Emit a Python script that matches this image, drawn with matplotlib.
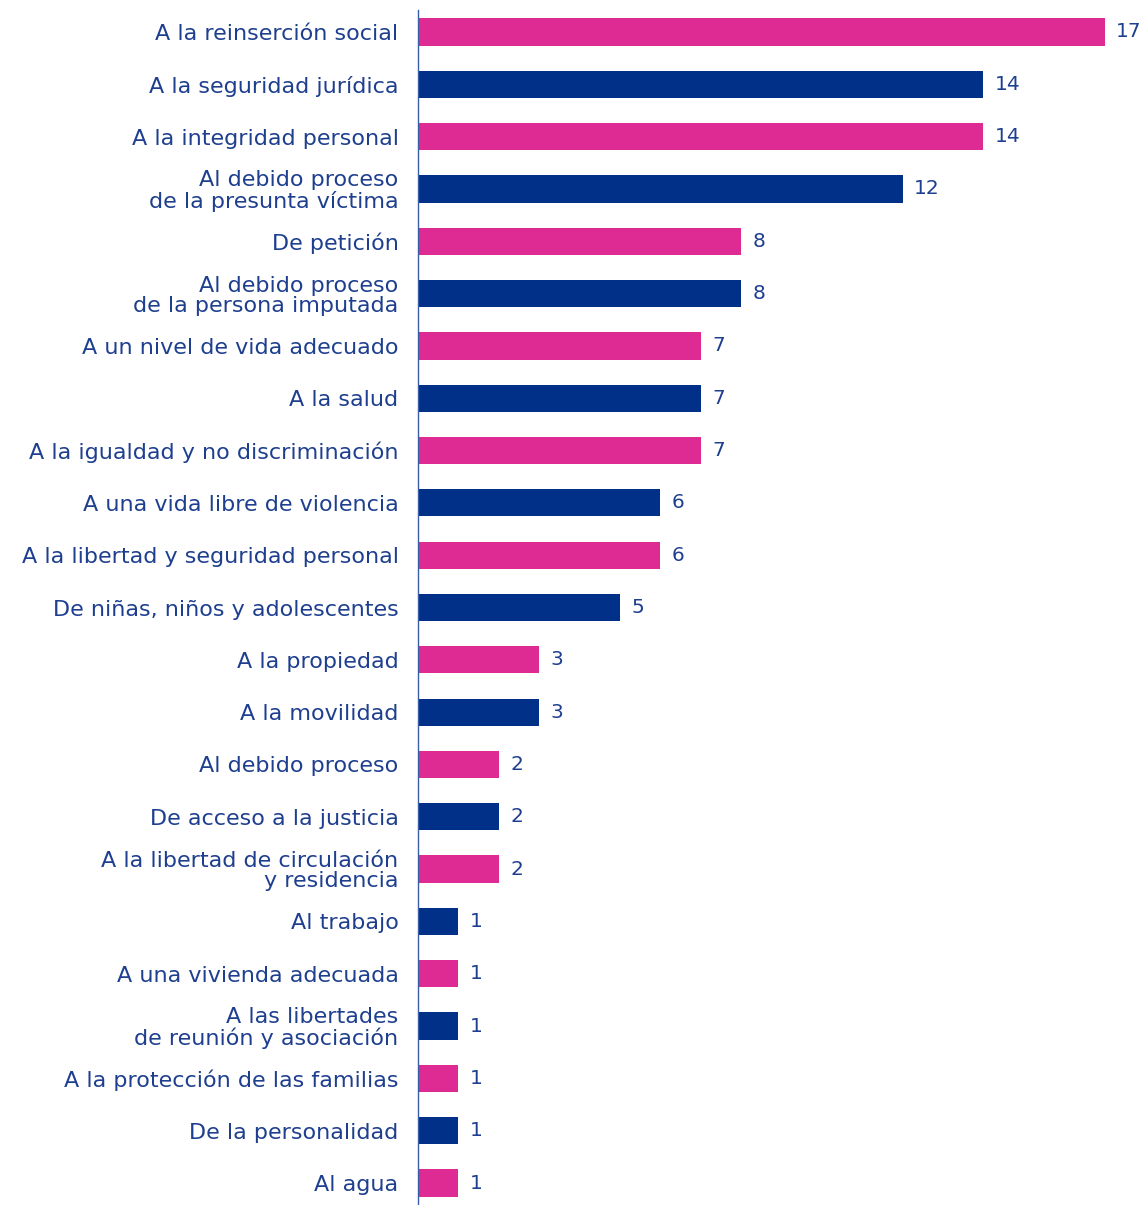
import matplotlib.pyplot as plt

labels = [
    "A la reinserción social",
    "A la seguridad jurídica",
    "A la integridad personal",
    "Al debido proceso\nde la presunta víctima",
    "De petición",
    "Al debido proceso\nde la persona imputada",
    "A un nivel de vida adecuado",
    "A la salud",
    "A la igualdad y no discriminación",
    "A una vida libre de violencia",
    "A la libertad y seguridad personal",
    "De niñas, niños y adolescentes",
    "A la propiedad",
    "A la movilidad",
    "Al debido proceso",
    "De acceso a la justicia",
    "A la libertad de circulación\ny residencia",
    "Al trabajo",
    "A una vivienda adecuada",
    "A las libertades\nde reunión y asociación",
    "A la protección de las familias",
    "De la personalidad",
    "Al agua",
]
values = [17, 14, 14, 12, 8, 8, 7, 7, 7, 6, 6, 5, 3, 3, 2, 2, 2, 1, 1, 1, 1, 1, 1]

pink = "#DE2A93"
blue = "#003087"
text_col = "#1E3F8F"
colors = [pink if i % 2 == 0 else blue for i in range(len(values))]

plt.rcParams['font.family'] = ['DejaVu Sans']

fig = plt.figure(figsize=(11.46, 12.05), dpi=100)
ax = fig.add_axes([418 / 1146, 0, 727 / 1146, 1195 / 1205])

y = list(range(len(values)))
ax.barh(y, values, height=0.52, color=colors)
ax.set_xlim(0, 18)
ax.set_ylim(len(values) - 1 + 0.42, -0.42)

for yi, v in zip(y, values):
    ax.text(v + 0.28, yi, str(v), va="center", ha="left", fontsize=14.5,
            color=text_col, clip_on=False)

ax.set_yticks(y)
ax.set_yticklabels(labels, fontsize=16, color=text_col, linespacing=1.02)
ax.tick_params(axis="y", length=0, pad=14)
ax.set_xticks([])
for s in ["top", "right", "bottom"]:
    ax.spines[s].set_visible(False)
ax.spines["left"].set_color("#3A5DA8")
ax.spines["left"].set_linewidth(1)

fig.savefig("out.png", dpi=100)
